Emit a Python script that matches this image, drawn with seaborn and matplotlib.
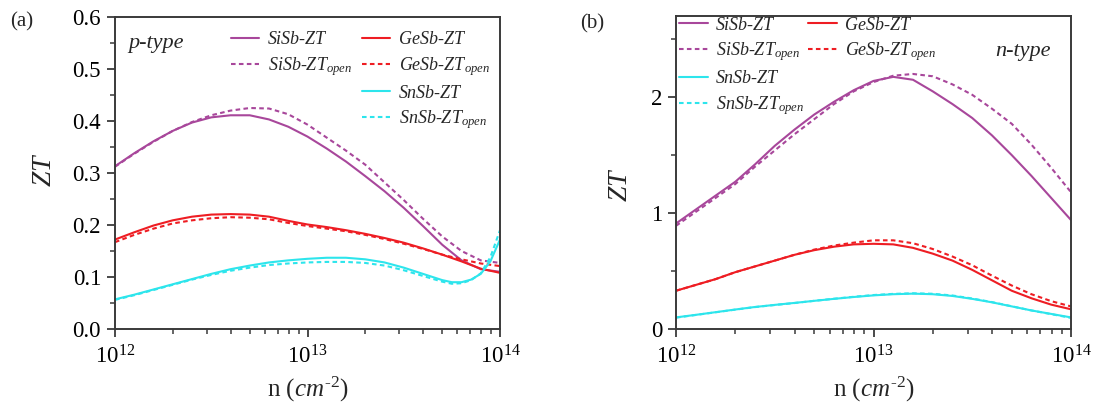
import numpy as np
import pandas as pd
import matplotlib
matplotlib.use("Agg")
import matplotlib.pyplot as plt
from matplotlib.lines import Line2D
from matplotlib.ticker import MultipleLocator, LogLocator, NullFormatter, FormatStrFormatter
import seaborn as sns

# ---------------- data: log10(n / cm^-2) and ZT ----------------
grid = [12.0, 12.1, 12.2, 12.3, 12.4, 12.5, 12.6, 12.7, 12.8, 12.9, 13.0,
        13.1, 13.2, 13.3, 13.4, 13.5, 13.6, 13.7, 13.8, 13.9, 14.0]

# p-type
p_sisb_zt = [0.313, 0.338, 0.361, 0.381, 0.397, 0.407, 0.411, 0.411, 0.403, 0.389, 0.370,
             0.347, 0.322, 0.294, 0.265, 0.233, 0.198, 0.162, 0.132, 0.115, 0.110]
p_sisb_open = [0.312, 0.337, 0.360, 0.381, 0.398, 0.411, 0.420, 0.425, 0.424, 0.413, 0.393,
               0.368, 0.343, 0.316, 0.282, 0.248, 0.212, 0.178, 0.150, 0.132, 0.127]
p_gesb_zt = [0.172, 0.186, 0.199, 0.209, 0.216, 0.220, 0.221, 0.220, 0.216, 0.208, 0.201,
             0.196, 0.190, 0.183, 0.175, 0.166, 0.155, 0.143, 0.130, 0.116, 0.108]
p_gesb_open = [0.167, 0.181, 0.193, 0.203, 0.209, 0.213, 0.215, 0.214, 0.211, 0.204, 0.198,
               0.193, 0.188, 0.181, 0.173, 0.164, 0.154, 0.143, 0.134, 0.126, 0.121]
p_snsb_grid = [12.0, 12.1, 12.2, 12.3, 12.4, 12.5, 12.6, 12.7, 12.8, 12.9, 13.0,
               13.1, 13.2, 13.3, 13.4, 13.5, 13.6, 13.7, 13.75, 13.8, 13.85,
               13.9, 13.95, 14.0]
p_snsb_zt = [0.057, 0.066, 0.076, 0.086, 0.096, 0.106, 0.115, 0.122, 0.128, 0.132, 0.135,
             0.137, 0.137, 0.134, 0.128, 0.118, 0.106, 0.094, 0.090, 0.090, 0.095,
             0.106, 0.130, 0.172]
p_snsb_open = [0.056, 0.065, 0.075, 0.085, 0.095, 0.104, 0.112, 0.118, 0.123, 0.126, 0.128,
               0.129, 0.129, 0.127, 0.122, 0.113, 0.102, 0.091, 0.087, 0.088, 0.094,
               0.107, 0.138, 0.190]

# n-type
n_sisb_zt = [0.91, 1.03, 1.15, 1.27, 1.42, 1.58, 1.72, 1.85, 1.96, 2.06, 2.14,
             2.175, 2.15, 2.05, 1.94, 1.82, 1.67, 1.50, 1.32, 1.13, 0.94]
n_sisb_open = [0.89, 1.01, 1.13, 1.25, 1.40, 1.54, 1.68, 1.81, 1.94, 2.05, 2.13,
               2.185, 2.20, 2.18, 2.11, 2.02, 1.90, 1.77, 1.59, 1.39, 1.18]
n_gesb_zt = [0.33, 0.38, 0.43, 0.49, 0.54, 0.59, 0.64, 0.68, 0.71, 0.73, 0.735,
             0.73, 0.70, 0.65, 0.59, 0.51, 0.42, 0.33, 0.265, 0.21, 0.17]
n_gesb_open = [0.33, 0.38, 0.43, 0.49, 0.54, 0.59, 0.64, 0.685, 0.72, 0.745, 0.765,
               0.765, 0.74, 0.69, 0.625, 0.55, 0.46, 0.375, 0.30, 0.24, 0.195]
n_snsb_zt = [0.100, 0.122, 0.145, 0.168, 0.190, 0.208, 0.225, 0.243, 0.260, 0.276, 0.290,
             0.300, 0.305, 0.300, 0.285, 0.260, 0.230, 0.195, 0.160, 0.130, 0.100]
n_snsb_open = [0.098, 0.121, 0.144, 0.167, 0.189, 0.207, 0.224, 0.243, 0.261, 0.278, 0.293,
               0.303, 0.308, 0.304, 0.289, 0.263, 0.232, 0.196, 0.160, 0.128, 0.096]

materials = ["SiSb", "GeSb", "SnSb"]
colors = {"SiSb": "#A8479B", "GeSb": "#EE1D23", "SnSb": "#2DE5EC"}


def long_frame(entries):
    rows = []
    for mat, kind, xs, ys in entries:
        for lx, z in zip(xs, ys):
            rows.append({"n": 10.0 ** lx, "ZT": z, "material": mat, "kind": kind})
    return pd.DataFrame(rows)


p_df = long_frame([
    ("SiSb", "ZT", grid, p_sisb_zt), ("SiSb", "open", grid, p_sisb_open),
    ("GeSb", "ZT", grid, p_gesb_zt), ("GeSb", "open", grid, p_gesb_open),
    ("SnSb", "ZT", p_snsb_grid, p_snsb_zt), ("SnSb", "open", p_snsb_grid, p_snsb_open),
])
n_df = long_frame([
    ("SiSb", "ZT", grid, n_sisb_zt), ("SiSb", "open", grid, n_sisb_open),
    ("GeSb", "ZT", grid, n_gesb_zt), ("GeSb", "open", grid, n_gesb_open),
    ("SnSb", "ZT", grid, n_snsb_zt), ("SnSb", "open", grid, n_snsb_open),
])

# ---------------- style ----------------
sns.set_style("ticks")
serif = "Liberation Serif"
plt.rcParams["font.family"] = [serif, "DejaVu Serif"]
plt.rcParams["mathtext.fontset"] = "custom"
plt.rcParams["mathtext.rm"] = serif
plt.rcParams["mathtext.it"] = serif + ":italic"
plt.rcParams["mathtext.bf"] = serif + ":bold"
plt.rcParams["axes.unicode_minus"] = False

LW = 1.5
DASH = (2.2, 1.6)
dash_map = {"ZT": "", "open": DASH}

fig = plt.figure(figsize=(10.97, 4.09), dpi=100)
ax1 = fig.add_axes([115 / 1097, 1 - 329 / 409, 385 / 1097, 312 / 409])
ax2 = fig.add_axes([676 / 1097, 1 - 329 / 409, 395 / 1097, 313 / 409])

for ax, df in ((ax1, p_df), (ax2, n_df)):
    sns.lineplot(data=df, x="n", y="ZT", hue="material", style="kind",
                 palette=colors, dashes=dash_map, hue_order=materials,
                 style_order=["ZT", "open"], estimator=None, sort=False,
                 linewidth=LW, legend=False, ax=ax)
    ax.set_xscale("log")
    ax.set_xlim(1e12, 1e14)
    ax.xaxis.set_major_locator(LogLocator(base=10, numticks=5))
    ax.xaxis.set_minor_locator(LogLocator(base=10, subs=np.arange(2, 10), numticks=20))
    ax.xaxis.set_minor_formatter(NullFormatter())
    for s in ax.spines.values():
        s.set_color("#3a3a3a")
        s.set_linewidth(1.4)
    ax.tick_params(which="major", direction="out", length=6, width=1.3,
                   colors="#3a3a3a", labelsize=16.5, labelcolor="black",
                   top=False, right=False, pad=4)
    ax.tick_params(which="minor", direction="out", length=3.5, width=1.1,
                   colors="#3a3a3a", top=False, right=False)
    ax.tick_params(axis="x", which="major", pad=6)
    ax.set_xlabel(r"n ($cm^{\text{-}2}$)", fontsize=18, labelpad=4)
    ax.set_ylabel(r"$ZT$", fontsize=20)

ax1.set_ylim(0, 0.6)
ax1.yaxis.set_major_locator(MultipleLocator(0.1))
ax1.yaxis.set_minor_locator(MultipleLocator(0.05))
ax1.yaxis.set_major_formatter(FormatStrFormatter("%.1f"))
ax1.yaxis.set_label_coords(-0.15, 0.51)

ax2.set_ylim(0, 2.7)
ax2.yaxis.set_major_locator(MultipleLocator(1))
ax2.yaxis.set_minor_locator(MultipleLocator(0.5))
ax2.yaxis.set_label_coords(-0.11, 0.46)

# ---------------- legends ----------------
def handle(mat, kind):
    return Line2D([], [], color=colors[mat], lw=LW,
                  dashes=DASH if kind == "open" else (None, None))

blank = Line2D([], [], color="none")
lab = {(m, "ZT"): f"{m}-ZT" for m in materials}
lab.update({(m, "open"): f"{m}-ZT" + r"$_{\mathit{open}}$" for m in materials})
leg_kw = dict(ncol=2, frameon=False, handlelength=1.6, handletextpad=0.45,
              labelspacing=0.38, borderaxespad=0.0, borderpad=0.0,
              prop={"family": serif, "style": "italic", "size": 13})

h1 = [handle("SiSb", "ZT"), handle("SiSb", "open"), blank, blank,
      handle("GeSb", "ZT"), handle("GeSb", "open"), handle("SnSb", "ZT"), handle("SnSb", "open")]
l1 = [lab[("SiSb", "ZT")], lab[("SiSb", "open")], "", "",
      lab[("GeSb", "ZT")], lab[("GeSb", "open")], lab[("SnSb", "ZT")], lab[("SnSb", "open")]]
ax1.legend(h1, l1, loc="upper left", bbox_to_anchor=(0.30, 0.955),
           columnspacing=0.55, **leg_kw)

h2 = [handle("SiSb", "ZT"), handle("SiSb", "open"), handle("SnSb", "ZT"), handle("SnSb", "open"),
      handle("GeSb", "ZT"), handle("GeSb", "open"), blank, blank]
l2 = [lab[("SiSb", "ZT")], lab[("SiSb", "open")], lab[("SnSb", "ZT")], lab[("SnSb", "open")],
      lab[("GeSb", "ZT")], lab[("GeSb", "open")], "", ""]
ax2.legend(h2, l2, loc="upper left", bbox_to_anchor=(0.008, 0.998),
           columnspacing=0.2, **leg_kw)

ax1.text(0.035, 0.915, "p-type", transform=ax1.transAxes, fontsize=16,
         style="italic", ha="left", va="center")
ax2.text(0.948, 0.888, "n-type", transform=ax2.transAxes, fontsize=16,
         style="italic", ha="right", va="center")

fig.text(10 / 1097, 1 - 22 / 409, "(a)", fontsize=15, ha="left", va="center")
fig.text(580 / 1097, 1 - 24 / 409, "(b)", fontsize=15, ha="left", va="center")

fig.savefig("out.png", dpi=100, facecolor="white")
